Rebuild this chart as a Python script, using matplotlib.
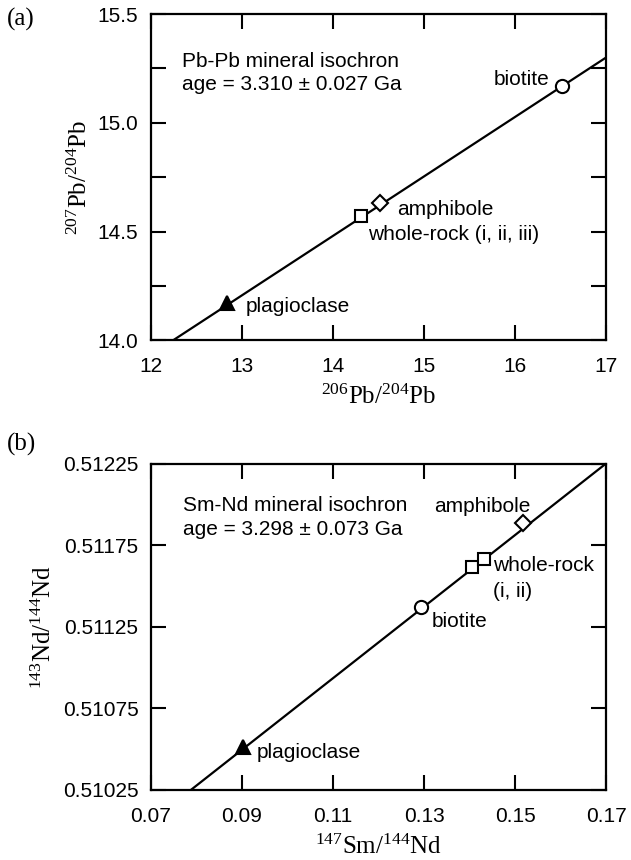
import numpy as np
import matplotlib
matplotlib.use("Agg")
import matplotlib.pyplot as plt
from matplotlib.ticker import FormatStrFormatter, FixedLocator

# fonts: Helvetica-like for text, Times-like for axis labels
plt.rcParams['font.family'] = ['Liberation Sans', 'DejaVu Sans']
plt.rcParams['mathtext.fontset'] = 'custom'
plt.rcParams['mathtext.rm'] = 'Liberation Serif'
plt.rcParams['mathtext.it'] = 'Liberation Serif:italic'
plt.rcParams['mathtext.bf'] = 'Liberation Serif:bold'

##################################################
# Data
##################################################

# (a) Pb-Pb
pb_minerals = ['plagioclase', 'whole-rock', 'amphibole', 'biotite']
pb_206_204 = [12.83, 14.31, 14.52, 16.52]
pb_207_204 = [14.17, 14.57, 14.63, 15.17]
pb_line_x = [12.24, 17.0]
pb_line_y = [14.0, 15.30]
pb_title = 'Pb-Pb mineral isochron'
pb_age = 'age = 3.310 \u00b1 0.027 Ga'
pb_xticks = [12, 13, 14, 15, 16, 17]
pb_yticks = [14.0, 14.5, 15.0, 15.5]
pb_yminor = [14.25, 14.75, 15.25]

# (b) Sm-Nd
nd_minerals = ['plagioclase', 'biotite', 'whole-rock', 'whole-rock', 'amphibole']
sm_147_144 = [0.0903, 0.1293, 0.1406, 0.1432, 0.1518]
nd_143_144 = [0.510512, 0.511372, 0.511617, 0.511668, 0.511883]
nd_line_x = [0.07875, 0.17]
nd_line_y = [0.51025, 0.51225]
nd_title = 'Sm-Nd mineral isochron'
nd_age = 'age = 3.298 \u00b1 0.073 Ga'
nd_xticks = [0.07, 0.09, 0.11, 0.13, 0.15, 0.17]
nd_yticks = [0.51025, 0.51075, 0.51125, 0.51175, 0.51225]

# marker style for each mineral
styles = {
    'plagioclase': dict(marker='^', mfc='black', ms=9.5),
    'whole-rock': dict(marker='s', mfc='white', ms=9),
    'amphibole': dict(marker='D', mfc='white', ms=8.5),
    'biotite': dict(marker='o', mfc='white', ms=9.5),
}

SERIF = 'Liberation Serif'
TXT = 15


def style_axes(ax):
    for s in ax.spines.values():
        s.set_linewidth(1.6)
    ax.tick_params(which='both', direction='in', top=True, right=True,
                   length=11, width=1.5, labelsize=TXT)
    ax.tick_params(axis='x', pad=12)
    ax.tick_params(axis='y', pad=9)


def draw_points(ax, xs, ys, names):
    for x, y, n in zip(xs, ys, names):
        ax.plot(x, y, linestyle='none', mec='black', mew=1.5, zorder=3, **styles[n])


fig = plt.figure(figsize=(6.31, 8.60), dpi=100)

##################################################
# (a) Pb-Pb isochron
##################################################
ax1 = fig.add_axes([0.2393, 0.6041, 0.7211, 0.3796])
ax1.plot(pb_line_x, pb_line_y, color='black', lw=1.6, zorder=2)
draw_points(ax1, pb_206_204, pb_207_204, pb_minerals)

ax1.set_xlim(12, 17)
ax1.set_ylim(14.0, 15.5)
ax1.xaxis.set_major_locator(FixedLocator(pb_xticks))
ax1.yaxis.set_major_locator(FixedLocator(pb_yticks))
ax1.yaxis.set_minor_locator(FixedLocator(pb_yminor))
ax1.yaxis.set_major_formatter(FormatStrFormatter('%.1f'))
style_axes(ax1)

ax1.text(12.337, 15.284, pb_title, fontsize=TXT, va='center')
ax1.text(12.337, 15.174, pb_age, fontsize=TXT, va='center')
ax1.text(16.38, 15.197, 'biotite', fontsize=TXT, va='center', ha='right')
ax1.text(14.71, 14.603, 'amphibole', fontsize=TXT, va='center')
ax1.text(14.387, 14.489, 'whole-rock (i, ii, iii)', fontsize=TXT, va='center')
ax1.text(13.045, 14.156, 'plagioclase', fontsize=TXT, va='center')

ax1.set_xlabel(r'$^{206}$Pb/$^{204}$Pb', family=SERIF, fontsize=18, va='center')
ax1.xaxis.set_label_coords(0.5, -0.173)
ax1.set_ylabel(r'$^{207}$Pb/$^{204}$Pb', family=SERIF, fontsize=18, va='center')
ax1.yaxis.set_label_coords(-0.157, 0.5)

##################################################
# (b) Sm-Nd isochron
##################################################
ax2 = fig.add_axes([0.2393, 0.0814, 0.7211, 0.3796])
ax2.plot(nd_line_x, nd_line_y, color='black', lw=1.6, zorder=2)
draw_points(ax2, sm_147_144, nd_143_144, nd_minerals)

ax2.set_xlim(0.07, 0.17)
ax2.set_ylim(0.51025, 0.51225)
ax2.xaxis.set_major_locator(FixedLocator(nd_xticks))
ax2.yaxis.set_major_locator(FixedLocator(nd_yticks))
ax2.xaxis.set_major_formatter(FormatStrFormatter('%.2f'))
ax2.yaxis.set_major_formatter(FormatStrFormatter('%.5f'))
style_axes(ax2)

ax2.text(0.07698, 0.511995, nd_title, fontsize=TXT, va='center')
ax2.text(0.07698, 0.511846, nd_age, fontsize=TXT, va='center')
ax2.text(0.1322, 0.511989, 'amphibole', fontsize=TXT, va='center')
ax2.text(0.14527, 0.511623, 'whole-rock', fontsize=TXT, va='center')
ax2.text(0.14527, 0.511464, '(i, ii)', fontsize=TXT, va='center')
ax2.text(0.13175, 0.511285, 'biotite', fontsize=TXT, va='center')
ax2.text(0.09314, 0.510481, 'plagioclase', fontsize=TXT, va='center')

ax2.set_xlabel(r'$^{147}$Sm/$^{144}$Nd', family=SERIF, fontsize=18, va='center')
ax2.xaxis.set_label_coords(0.5, -0.1746)
ax2.set_ylabel(r'$^{143}$Nd/$^{144}$Nd', family=SERIF, fontsize=18, va='center')
ax2.yaxis.set_label_coords(-0.235, 0.5)

# panel letters
fig.text(21 / 631, 1 - 19 / 860, '(a)', family=SERIF, fontsize=18, ha='center', va='center')
fig.text(22 / 631, 1 - 444 / 860, '(b)', family=SERIF, fontsize=18, ha='center', va='center')

fig.savefig('out.png', dpi=100)
